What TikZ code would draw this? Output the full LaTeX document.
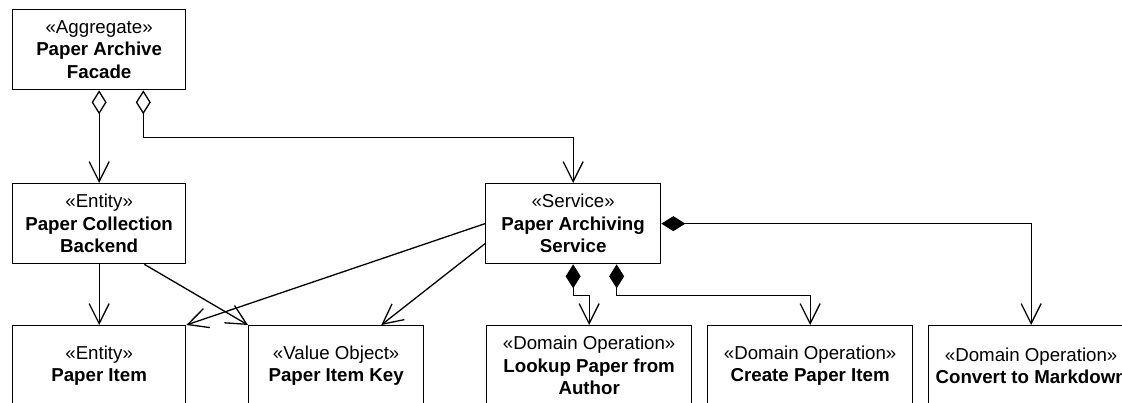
\documentclass[tikz,border=0pt]{standalone}
\usepackage{fontspec}
\setmainfont{Liberation Sans}
\usetikzlibrary{arrows.meta,calc}
\begin{document}
\begin{tikzpicture}[x=1pt,y=-1pt,
  box/.style={draw, line width=1.3pt, inner sep=0pt, minimum height=80pt,
    anchor=north west, align=center, font=\fontsize{18.7}{22.5}\selectfont},
  tip/.tip={Straight Barb[length=20pt,width=20pt]},
  link/.style={line width=1.3pt},
  aggr/.style={link, {Diamond[open,length=24pt,width=15pt]}-tip},
  comp/.style={link, {Diamond[length=24pt,width=15pt]}-tip},
  assoc/.style={link, -tip}]
\useasboundingbox (0,0) rectangle (1122,402);
\clip (0,0) rectangle (1122,402);
\node[box, minimum width=173pt] (agg) at (12,9) {«Aggregate»\\\textbf{Paper Archive}\\\textbf{Facade}};
\node[box, minimum width=173pt] (backend) at (12,183) {«Entity»\\\textbf{Paper Collection}\\\textbf{Backend}};
\node[box, minimum width=175pt] (service) at (485,183) {«Service»\\\textbf{Paper Archiving}\\\textbf{Service}};
\node[box, minimum width=173pt] (item) at (12,325) {«Entity»\\\textbf{Paper Item}};
\node[box, minimum width=175pt] (key) at (248,325) {«Value Object»\\\textbf{Paper Item Key}};
\node[box, minimum width=205pt] (lookup) at (486,325) {«Domain Operation»\\\textbf{Lookup Paper from}\\\textbf{Author}};
\node[box, minimum width=205pt] (create) at (707,325) {«Domain Operation»\\\textbf{Create Paper Item}};
\node[box, minimum width=205pt] (convert) at (928,325) {«Domain Operation»\\\textbf{Convert to Markdown}};
\draw[aggr] (agg.south) -- (backend.north);
\draw[aggr] ([xshift=-43pt]agg.south east) -- ++(0,47) -| (service.north);
\draw[assoc] (backend.south) -- (item.north);
\draw[assoc] ([xshift=-42pt]backend.south east) -- (key.north west);
\draw[assoc] (service.west) -- (item.north east);
\draw[assoc] ([yshift=-20pt]service.west) -- ([xshift=-43pt]key.north east);
\draw[comp] (service.south) -- ++(0,31) -| (lookup.north);
\draw[comp] ([xshift=43.5pt]service.south) -- ++(0,31) -| (create.north);
\draw[comp] (service.east) -| (convert.north);
\end{tikzpicture}
\end{document}
